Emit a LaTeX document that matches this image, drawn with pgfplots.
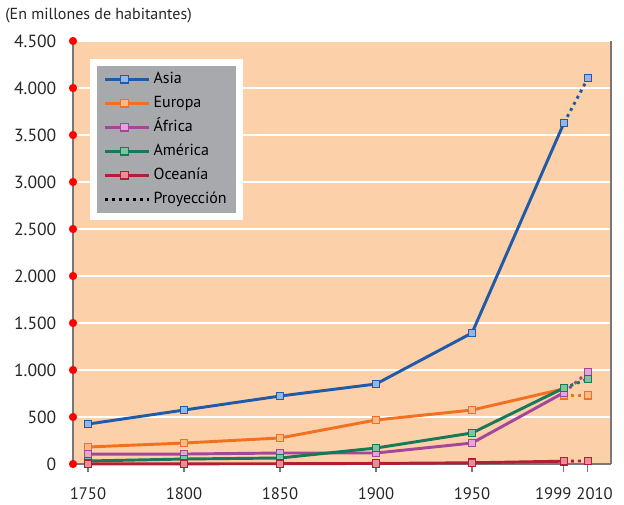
\documentclass[border=0pt]{standalone}
\usepackage{pgfplots}
\pgfplotsset{compat=1.18}
\usepackage{fontspec}
\setmainfont{PT Sans}
\definecolor{bg}{HTML}{FCD0A8}
\definecolor{axgray}{HTML}{77787B}
\definecolor{leggray}{HTML}{A7A9AC}
\definecolor{casia}{HTML}{1F5BA8}
\definecolor{fasia}{HTML}{93B6E2}
\definecolor{ceur}{HTML}{F37021}
\definecolor{feur}{HTML}{FBB88A}
\definecolor{cafr}{HTML}{A4479B}
\definecolor{fafr}{HTML}{E3A5D8}
\definecolor{came}{HTML}{17785A}
\definecolor{fame}{HTML}{80C2A2}
\definecolor{coce}{HTML}{B01F35}
\definecolor{foce}{HTML}{E98E99}
\begin{document}
\begin{tikzpicture}
\path[use as bounding box] (-54.75pt,-30pt) rectangle (413.25pt,348pt);
\begin{axis}[
  at={(0,0)}, anchor=south west,
  scale only axis, width=403.5pt, height=317.25pt,
  xmin=-0.15625, xmax=5.448, ymin=0, ymax=4500,
  clip=false,
  axis background/.style={fill=bg},
  axis x line*=bottom, axis y line*=left,
  axis line style={draw=axgray, line width=1.2pt, -},
  xtick={0,1,2,3,4,4.958,5.208},
  xticklabels={1750,1800,1850,1900,1950,\makebox[0pt]{\hspace*{-16pt}1999},\makebox[0pt]{\hspace*{10pt}2010}},
  ytick={0,500,...,4500},
  ymajorgrids, grid style={white, line width=1.1pt},
  xtick style={draw=axgray, line width=0.8pt},
  ytick style={draw=none},
  tick align=outside, major tick length=6pt,
  /pgf/number format/assume math mode=true,
  /pgf/number format/1000 sep={.},
  xticklabel style={font=\fontsize{12.5}{15}\selectfont, text=black!85, yshift=-8.5pt},
  yticklabel style={font=\fontsize{13.2}{15}\selectfont, text=black!85, xshift=-3pt},
  legend cell align=left,
  legend style={at={(0.0325,0.9586)}, anchor=north west,
    fill=leggray, draw=white, line width=5.25pt,
    inner xsep=7.5pt, inner ysep=4pt, row sep=0pt,
    font=\fontsize{12}{14}\selectfont,
    nodes={inner ysep=3pt, text height=9pt, text depth=3pt}},
  legend image code/.code={\path (0pt,0pt) -- (33pt,0pt);\draw[#1, mark repeat=2, mark phase=2] plot coordinates {(0pt,0pt) (14.25pt,0pt) (28.5pt,0pt)};},
  every axis plot/.append style={line width=2.2pt, mark=square*, mark size=2.8pt},
]
% red dots on left axis
\addplot[only marks, mark=*, mark size=2.9pt, line width=0.3pt, draw=red, fill=red, forget plot] coordinates {
(-0.15625,0) (-0.15625,500) (-0.15625,1000) (-0.15625,1500) (-0.15625,2000)
(-0.15625,2500) (-0.15625,3000) (-0.15625,3500) (-0.15625,4000) (-0.15625,4500)};
% Asia
\addplot[draw=casia, mark options={draw=casia, fill=fasia, line width=1pt, solid}] coordinates {
(0,425) (1,574) (2,723) (3,851) (4,1394) (4.958,3628)};
\addlegendentry{Asia}
\addplot[draw=casia, dash pattern=on 2.2pt off 3pt, mark options={draw=casia, fill=fasia, line width=1pt, solid}, forget plot] coordinates {
(4.958,3628) (5.208,4106)};
% Europa
\addplot[draw=ceur, mark options={draw=ceur, fill=feur, line width=1pt, solid}] coordinates {
(0,181) (1,223) (2,277) (3,468) (4,574)};
\addlegendentry{Europa}
\addplot[draw=ceur, mark=none, forget plot] coordinates {(4,574) (4.958,800)};
\addplot[draw=ceur, dash pattern=on 2.2pt off 3pt, mark options={draw=ceur, fill=feur, line width=1pt, solid}, forget plot] coordinates {
(4.958,730) (5.208,730)};
% Africa
\addplot[draw=cafr, mark options={draw=cafr, fill=fafr, line width=1pt, solid}] coordinates {
(0,106) (1,106) (2,117) (3,117) (4,223) (4.958,760)};
\addlegendentry{África}
\addplot[draw=cafr, dash pattern=on 2.2pt off 3pt, mark options={draw=cafr, fill=fafr, line width=1pt, solid}, forget plot] coordinates {
(4.958,760) (5.208,979)};
% America
\addplot[draw=came, mark options={draw=came, fill=fame, line width=1pt, solid}] coordinates {
(0,32) (1,53) (2,64) (3,170) (4,330) (4.958,809)};
\addlegendentry{América}
\addplot[draw=came, dash pattern=on 2.2pt off 3pt, mark options={draw=came, fill=fame, line width=1pt, solid}, forget plot] coordinates {
(4.958,809) (5.208,904)};
% Oceania
\addplot[draw=coce, mark options={draw=coce, fill=foce, line width=1pt, solid}] coordinates {
(0,2) (1,2) (2,3) (3,6) (4,13) (4.958,30)};
\addlegendentry{Oceanía}
\addplot[draw=coce, dash pattern=on 2.2pt off 3pt, mark options={draw=coce, fill=foce, line width=1pt, solid}, forget plot] coordinates {
(4.958,30) (5.208,33)};
\addlegendimage{black, mark=none, line width=2.2pt, dash pattern=on 2.2pt off 3pt}
\addlegendentry{Proyección}
\draw[draw=axgray, line width=1.5pt] (rel axis cs:1,0) -- (rel axis cs:1,1);
\end{axis}
\node[anchor=west, font=\fontsize{12}{14}\selectfont, text=black!85, inner sep=0pt] at (-51pt,336pt) {(En millones de habitantes)};
\end{tikzpicture}
\end{document}
